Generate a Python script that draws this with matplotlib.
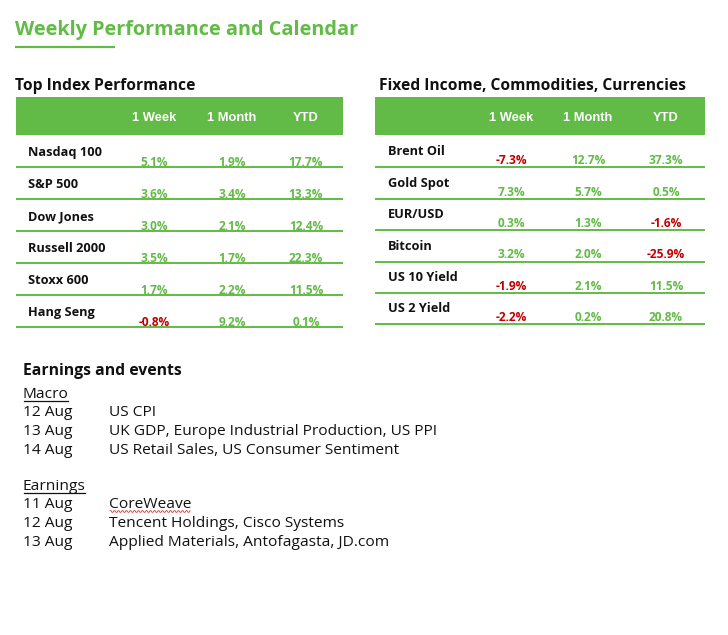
import matplotlib
matplotlib.use("Agg")
import matplotlib.pyplot as plt
from matplotlib.patches import Rectangle
import numpy as np

# ---------------- data ----------------
title = "Weekly Performance and Calendar"
columns = ["1 Week", "1 Month", "YTD"]

idx_title = "Top Index Performance"
idx_names = ["Nasdaq 100", "S&P 500", "Dow Jones", "Russell 2000", "Stoxx 600", "Hang Seng"]
idx_week = [5.1, 3.6, 3.0, 3.5, 1.7, -0.8]
idx_month = [1.9, 3.4, 2.1, 1.7, 2.2, 9.2]
idx_ytd = [17.7, 13.3, 12.4, 22.3, 11.5, 0.1]

fic_title = "Fixed Income, Commodities, Currencies"
fic_names = ["Brent Oil", "Gold Spot", "EUR/USD", "Bitcoin", "US 10 Yield", "US 2 Yield"]
fic_week = [-7.3, 7.3, 0.3, 3.2, -1.9, -2.2]
fic_month = [12.7, 5.7, 1.3, 2.0, 2.1, 0.2]
fic_ytd = [37.3, 0.5, -1.6, -25.9, 11.5, 20.8]

events_title = "Earnings and events"
macro_label = "Macro"
macro_dates = ["12 Aug", "13 Aug", "14 Aug"]
macro_events = ["US CPI", "UK GDP, Europe Industrial Production, US PPI",
                "US Retail Sales, US Consumer Sentiment"]
earn_label = "Earnings"
earn_dates = ["11 Aug", "12 Aug", "13 Aug"]
earn_events = ["CoreWeave", "Tencent Holdings, Cisco Systems",
               "Applied Materials, Antofagasta, JD.com"]

# ---------------- style ----------------
GREEN = "#62bb46"
RED = "#c00000"
SANS = ["Open Sans", "DejaVu Sans"]
ARIAL = ["Liberation Sans", "DejaVu Sans"]

W, H = 728, 635
fig = plt.figure(figsize=(W / 100, H / 100), dpi=100)
ax = fig.add_axes([0, 0, 1, 1])
ax.set_xlim(0, W)
ax.set_ylim(H, 0)
ax.axis("off")

# title
ax.text(15, 35, title, fontsize=14.3, fontweight="bold", color=GREEN,
        family=SANS, va="baseline", ha="left")
ax.plot([15, 115], [47, 47], color=GREEN, lw=1.6, solid_capstyle="butt")


def draw_table(x0, x1, hx, heading, names, cols, col_x, line_ys, name_x,
               name_off, val_off):
    ax.text(hx, 90, heading, fontsize=11.25, fontweight="bold", color="#111111",
            family=SANS, va="baseline", ha="left")
    ax.add_patch(Rectangle((x0, 97), x1 - x0, 38, color=GREEN, lw=0))
    for c, cx in zip(columns, col_x):
        ax.text(cx, 121, c, fontsize=9.3, fontweight="bold", color="white",
                family=ARIAL, va="baseline", ha="center")
    for i, name in enumerate(names):
        ly = line_ys[i]
        ax.text(name_x, ly - name_off, name, fontsize=9.2, fontweight="bold",
                color="#111111", family=SANS, va="baseline", ha="left")
        for vals, cx in zip(cols, col_x):
            v = vals[i]
            ax.text(cx, ly - val_off, f"{v:.1f}%", fontsize=8.6, fontweight="bold",
                    color=RED if v < 0 else GREEN, family=SANS,
                    va="baseline", ha="center")
        ax.plot([x0, x1], [ly, ly], color=GREEN, lw=1.4, solid_capstyle="butt")


left_lines = 167 + 32 * np.arange(len(idx_names))
draw_table(16, 343, 15, idx_title, idx_names, [idx_week, idx_month, idx_ytd],
           [154, 232, 306], left_lines, 28, 11, 1.5)

right_lines = 167.3 + 31.4 * np.arange(len(fic_names))
draw_table(375, 705, 379, fic_title, fic_names, [fic_week, fic_month, fic_ytd],
           [511, 588, 666], right_lines, 388, 12, 3)

# events section
ax.text(23, 375, events_title, fontsize=11.3, fontweight="bold", color="#111111",
        family=SANS, va="baseline", ha="left")

LINE = 18.5
FS = 11.15


def text_bounds(t):
    fig.canvas.draw()
    bb = t.get_window_extent().transformed(ax.transData.inverted())
    return min(bb.x0, bb.x1), max(bb.x0, bb.x1), max(bb.y0, bb.y1)


def draw_block(y_label, label, dates, events):
    t = ax.text(23, y_label, label, fontsize=FS, color="#111111", family=SANS,
                va="baseline", ha="left")
    xa, xb, _ = text_bounds(t)
    ax.plot([xa + 1, xb - 1], [y_label + 2.5, y_label + 2.5], color="#111111", lw=0.9)
    texts = []
    for k, (d, e) in enumerate(zip(dates, events)):
        y = y_label + LINE * (k + 1)
        ax.text(23, y, d, fontsize=FS, color="#111111", family=SANS,
                va="baseline", ha="left")
        texts.append(ax.text(109, y, e, fontsize=FS, color="#111111", family=SANS,
                             va="baseline", ha="left"))
    return texts


draw_block(398, macro_label, macro_dates, macro_events)
etexts = draw_block(490, earn_label, earn_dates, earn_events)

# spell-check squiggle under CoreWeave
xa, xb, _ = text_bounds(etexts[0])
base_y = 490 + LINE
xs = np.arange(xa + 1, xb - 1, 1.0)
ys = base_y + 3.0 + 0.8 * np.where((np.arange(len(xs)) // 2) % 2 == 0, -1, 1)
ax.plot(xs, ys, color="#e03030", lw=0.6)

fig.savefig("out.png", dpi=100, facecolor="white")
